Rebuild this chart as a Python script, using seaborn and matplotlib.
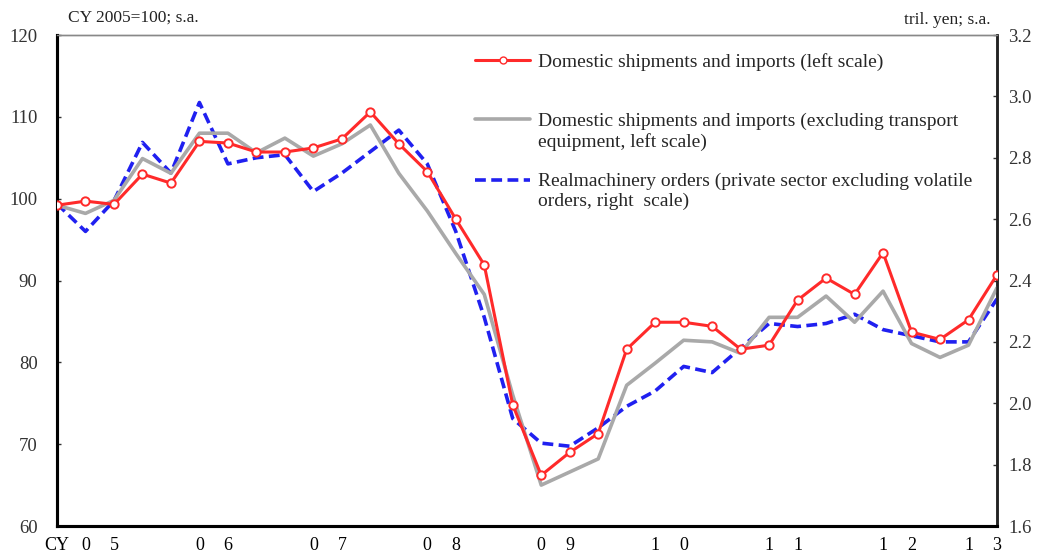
import numpy as np
import pandas as pd
import matplotlib
matplotlib.use("Agg")
import matplotlib.pyplot as plt
from matplotlib.lines import Line2D
import seaborn as sns

# quarterly data, 2005Q1 - 2013Q2
years = [5, 6, 7, 8, 9, 10, 11, 12, 13]
quarters_in_year = [4, 4, 4, 4, 4, 4, 4, 4, 2]

# Domestic shipments and imports (CY2005=100, left scale)
shipments = [99.2, 99.7, 99.3, 103.0, 101.9, 107.0, 106.8, 105.7, 105.7, 106.2,
             107.3, 110.6, 106.7, 103.3, 97.5, 91.9, 74.8, 66.2, 69.0, 71.3,
             81.6, 84.9, 84.9, 84.4, 81.6, 82.1, 87.6, 90.3, 88.3, 93.4,
             83.7, 82.8, 85.2, 90.7]
# excluding transport equipment (left scale)
shipments_ex = [99.2, 98.2, 99.8, 104.9, 103.1, 108.0, 108.0, 105.6, 107.4, 105.2,
                106.7, 109.0, 103.1, 98.5, 93.3, 88.3, 76.0, 65.0, 66.6, 68.2,
                77.2, 79.9, 82.7, 82.5, 81.1, 85.5, 85.5, 88.1, 84.9, 88.7,
                82.3, 80.6, 82.1, 89.1]
# real machinery orders (tril. yen, right scale)
orders = [2.65, 2.56, 2.66, 2.85, 2.75, 2.98, 2.78, 2.80, 2.81, 2.69,
          2.75, 2.82, 2.89, 2.78, 2.56, 2.28, 1.95, 1.87, 1.86, 1.92,
          1.99, 2.04, 2.12, 2.10, 2.18, 2.26, 2.25, 2.26, 2.29, 2.24,
          2.22, 2.20, 2.20, 2.34]

lab_red = "Domestic shipments and imports (left scale)"
lab_gray = ["Domestic shipments and imports (excluding transport", "equipment, left scale)"]
lab_blue = ["Realmachinery orders (private sector excluding volatile", "orders, right  scale)"]

c_red = "#ff2a2a"
c_gray = "#a9a9a9"
c_blue = "#2020f0"
blue_dash = (0, (3.0, 1.5))

df = pd.DataFrame({"q": np.arange(len(shipments)), "ship": shipments,
                   "ship_ex": shipments_ex, "orders": orders})

# x tick labels: "CY" then year digits spread over quarters
xlabels = []
for y, n in zip(years, quarters_in_year):
    s = "%02d" % y
    lab = [""] * n
    if n == 4:
        lab[1], lab[2] = s[0], s[1]
    else:
        lab[0], lab[1] = s[0], s[1]
    xlabels += lab
xlabels[0] = "CY"

sns.set_style("white")
plt.rcParams["font.family"] = ["Liberation Serif", "DejaVu Serif"]

fig, ax = plt.subplots(figsize=(10.42, 5.6), dpi=100)
fig.subplots_adjust(left=0.0547, right=0.9568, bottom=0.0607, top=0.9375)
ax2 = ax.twinx()

sns.lineplot(data=df, x="q", y="ship_ex", ax=ax, color=c_gray, lw=2.6,
             legend=False, zorder=2)
sns.lineplot(data=df, x="q", y="orders", ax=ax2, color=c_blue, lw=2.6,
             linestyle=blue_dash, legend=False, zorder=3)
sns.lineplot(data=df, x="q", y="ship", ax=ax, color=c_red, lw=2.2, marker="o",
             markersize=6, markerfacecolor="white", markeredgecolor=c_red,
             markeredgewidth=1.4, legend=False, zorder=4)
ax.set_zorder(ax2.get_zorder() + 1)
ax.patch.set_visible(False)

n = len(shipments)
ax.set_xlim(0, n - 1)
ax.set_ylim(60, 120)
ax.set_yticks(np.arange(60, 121, 10))
ax2.set_ylim(1.6, 3.2)
ax2.set_yticks(np.arange(1.6, 3.21, 0.2))
ax2.set_yticklabels(["%.1f" % v for v in np.arange(1.6, 3.21, 0.2)])
ax.set_xlabel("")
ax.set_ylabel("")
ax2.set_ylabel("")

idx = np.arange(n)
major = [i for i in idx if i % 4 in (0, 3)]
minor = [i for i in idx if i % 4 in (1, 2)]
ax.set_xticks(major, [xlabels[i] for i in major])
ax.set_xticks(minor, [xlabels[i] for i in minor], minor=True)
ax.tick_params(axis="x", which="major", direction="in", length=9, width=2.5,
               pad=8, labelsize=13, colors="black")
ax.tick_params(axis="x", which="minor", direction="in", length=3, width=1,
               pad=8, labelsize=13, colors="black")
ax.tick_params(axis="y", direction="in", length=3, width=1, pad=14,
               labelsize=13.5, colors="#333333", left=True)
ax2.tick_params(axis="y", direction="in", length=3, width=1, pad=8,
                labelsize=13.5, colors="#333333", right=True)

for a in (ax, ax2):
    a.spines["left"].set_linewidth(2.2)
    a.spines["left"].set_color("black")
    a.spines["bottom"].set_linewidth(2.2)
    a.spines["bottom"].set_color("black")
    a.spines["right"].set_linewidth(1.8)
    a.spines["right"].set_color("#222222")
    a.spines["top"].set_linewidth(1.0)
    a.spines["top"].set_color("#888888")

# legend (handles sit on the first line of each label)
blank = Line2D([], [], linestyle="none")
h_red = Line2D([], [], color=c_red, lw=2.2, marker="o", markersize=5,
               markerfacecolor="white", markeredgecolor=c_red)
h_gray = Line2D([], [], color=c_gray, lw=2.6)
h_blue = Line2D([], [], color=c_blue, lw=2.6, linestyle=blue_dash)
handles = [h_red, blank, blank, h_gray, blank, blank, h_blue, blank]
labels = [lab_red, "", "", lab_gray[0], lab_gray[1], "", lab_blue[0], lab_blue[1]]
ax.legend(handles, labels, loc="upper left", bbox_to_anchor=(0.4447, 0.964),
          frameon=False, fontsize=14, labelspacing=0.117, handlelength=2.83,
          handletextpad=0.41, borderpad=0, borderaxespad=0)

fig.text(68 / 1042, 1 - 18 / 560, "CY 2005=100; s.a.", fontsize=12.5,
         ha="left", va="center", color="#222222")
fig.text(990 / 1042, 1 - 20 / 560, "tril. yen; s.a.", fontsize=12.5,
         ha="right", va="center", color="#222222")

plt.savefig("out.png", dpi=100)
plt.close("all")
